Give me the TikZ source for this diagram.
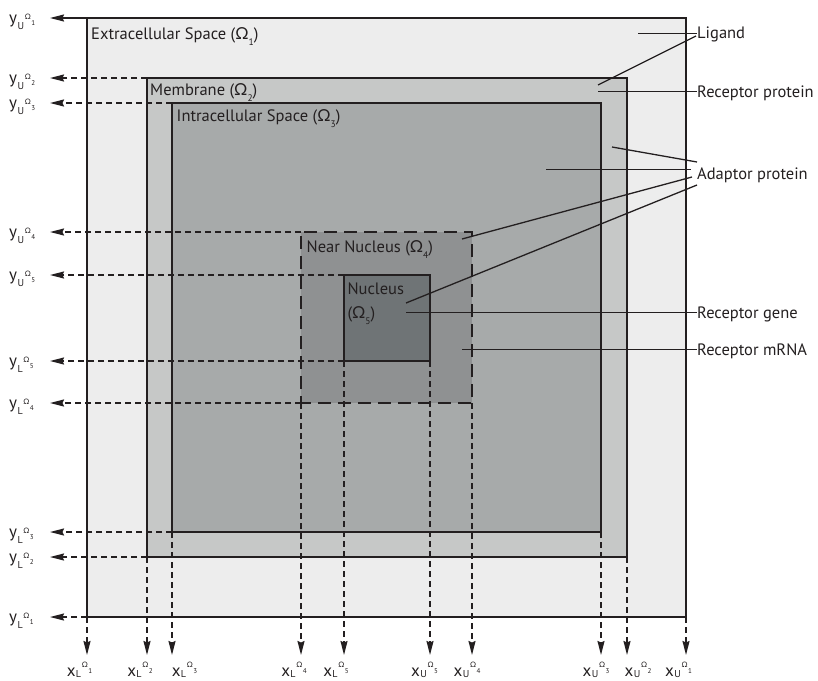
\documentclass[tikz,border=0pt]{standalone}
\usepackage{fontspec}
\setmainfont{PT Sans}
\newfontfamily\grk{Lato}
\usetikzlibrary{arrows.meta,calc}
\definecolor{ink}{HTML}{231F20}
\definecolor{cA}{HTML}{EDEDED}
\definecolor{cB}{HTML}{C6C8C7}
\definecolor{cC}{HTML}{A7AAAA}
\definecolor{cD}{HTML}{8F9192}
\definecolor{cE}{HTML}{6F7476}
\newcommand{\Om}{{\grk Ω}}
% #1 main letter, #2 raise of main, #3 sub letter, #4 digit
\newcommand{\glab}[4]{\raisebox{#2}{\fontsize{17}{17}\selectfont #1}\kern0.4pt{\fontsize{10}{10}\selectfont #3}\kern0.8pt\raisebox{10.5pt}{\fontsize{7.5}{7.5}\selectfont\grk Ω}\kern0.4pt\raisebox{4.5pt}{\fontsize{7}{7}\selectfont #4}}
\newcommand{\osub}[1]{\raisebox{-6pt}{\fontsize{9.5}{9.5}\selectfont #1}}
\tikzset{
  box/.style={draw=ink,line width=1.6pt,inner sep=0pt,outer sep=0pt},
  guide/.style={draw=ink,line width=1.5pt,dash pattern=on 6pt off 4pt,-{Stealth[length=14pt,width=7pt,inset=1.5pt]}},
  solidguide/.style={draw=ink,line width=1.5pt,-{Stealth[length=14pt,width=7pt,inset=1.5pt]}},
  lead/.style={draw=ink,line width=1.3pt},
  txt/.style={text=ink,inner sep=0pt,anchor=base west,font=\fontsize{16.5}{19}\selectfont},
  rlab/.style={text=ink,inner sep=0pt,anchor=west,text height=11.4pt,text depth=0pt,font=\fontsize{16.5}{19}\selectfont},
  ylab/.style={text=ink,inner sep=0pt,anchor=base west},
  xlab/.style={text=ink,inner sep=0pt,anchor=base},
}
\begin{document}
\begin{tikzpicture}[x=1pt,y=-1pt]
\path[fill=white] (0,0) rectangle (818,680);
\useasboundingbox (0,0) rectangle (818,680);
% compartments
\node[box,fill=cA,minimum width=599pt,minimum height=599pt] (o1) at (386.5,317.5) {};
\node[box,fill=cB,minimum width=480pt,minimum height=479pt] (o2) at (387,317.5) {};
\node[box,fill=cC,minimum width=429pt,minimum height=429pt] (o3) at (386.5,317.5) {};
\node[box,fill=cD,dash pattern=on 13pt off 7pt,dash phase=3pt,minimum width=171pt,minimum height=171pt] (o4) at (386.5,317.5) {};
\node[box,fill=cE,minimum width=86pt,minimum height=86pt] (o5) at (387,318) {};
% reference coordinates for arrow tips
\coordinate (L) at (50,0);
\coordinate (B) at (0,655);
% y guides
\draw[solidguide] (o1.north west) -- (o1.north west -| L);
\draw[guide] (o2.north west) -- (o2.north west -| L);
\draw[guide] (o3.north west) -- (o3.north west -| L);
\draw[guide] (o4.north west) -- (o4.north west -| L);
\draw[guide] (o5.north west) -- (o5.north west -| L);
\draw[guide] (o5.south west) -- (o5.south west -| L);
\draw[guide] (o4.south west) -- (o4.south west -| L);
\draw[guide] (o3.south west) -- (o3.south west -| L);
\draw[guide] (o2.south west) -- (o2.south west -| L);
\draw[guide] (o1.south west) -- (o1.south west -| L);
% x guides
\draw[guide] (o1.south west) -- (o1.south west |- B);
\draw[guide] (o2.south west) -- (o2.south west |- B);
\draw[guide] (o3.south west) -- (o3.south west |- B);
\draw[guide] (o4.south west) -- (o4.south west |- B);
\draw[guide] (o5.south west) -- (o5.south west |- B);
\draw[guide] (o5.south east) -- (o5.south east |- B);
\draw[guide] (o4.south east) -- (o4.south east |- B);
\draw[guide] (o3.south east) -- (o3.south east |- B);
\draw[guide] (o2.south east) -- (o2.south east |- B);
\draw[guide] (o1.south east) -- (o1.south east |- B);
% y labels
\node[ylab] (yu1) at (9,29.5) {\glab{y}{6pt}{U}{1}};
\node[ylab] (yu2) at (9,89.5) {\glab{y}{6pt}{U}{2}};
\node[ylab] (yu3) at (9,114.5) {\glab{y}{6pt}{U}{3}};
\node[ylab] (yu4) at (9,243.5) {\glab{y}{6pt}{U}{4}};
\node[ylab] (yu5) at (9,286.5) {\glab{y}{6pt}{U}{5}};
\node[ylab] (yl5) at (9,372.5) {\glab{y}{6pt}{L}{5}};
\node[ylab] (yl4) at (9,414.5) {\glab{y}{6pt}{L}{4}};
\node[ylab] (yl3) at (9,543.5) {\glab{y}{6pt}{L}{3}};
\node[ylab] (yl2) at (9,568.5) {\glab{y}{6pt}{L}{2}};
\node[ylab] (yl1) at (9,628.5) {\glab{y}{6pt}{L}{1}};
% x labels
\coordinate (XB) at (0,677.5);
\node[xlab] (xl1) at ($(o1.south west |- XB)+(-7.5,0)$) {\glab{x}{1.5pt}{L}{1}};
\node[xlab] (xl2) at ($(o2.south west |- XB)+(-7,0)$) {\glab{x}{1.5pt}{L}{2}};
\node[xlab] (xl3) at ($(o3.south west |- XB)+(12.5,0)$) {\glab{x}{1.5pt}{L}{3}};
\node[xlab] (xl4) at ($(o4.south west |- XB)+(-7,0)$) {\glab{x}{1.5pt}{L}{4}};
\node[xlab] (xl5) at ($(o5.south west |- XB)+(-8,0)$) {\glab{x}{1.5pt}{L}{5}};
\node[xlab] (xu5) at ($(o5.south east |- XB)+(-5.5,0)$) {\glab{x}{1.5pt}{U}{5}};
\node[xlab] (xu4) at ($(o4.south east |- XB)+(-5,0)$) {\glab{x}{1.5pt}{U}{4}};
\node[xlab] (xu3) at ($(o3.south east |- XB)+(-5,0)$) {\glab{x}{1.5pt}{U}{3}};
\node[xlab] (xu2) at ($(o2.south east |- XB)+(11,0)$) {\glab{x}{1.5pt}{U}{2}};
\node[xlab] (xu1) at ($(o1.south east |- XB)+(-7.5,0)$) {\glab{x}{1.5pt}{U}{1}};
% compartment names
\node[txt] (t1) at (91,39) {Extracellular Space (\Om\osub{1})};
\node[txt] (t2) at (150,95) {Membrane (\Om\osub{2})};
\node[txt] (t3) at (176.5,121.5) {Intracellular Space (\Om\osub{3})};
\node[txt] (t4) at (306.5,252.3) {Near Nucleus (\Om\osub{4})};
\node[txt] (t5) at (347.3,294.3) {Nucleus};
\node[txt] (t5b) at (347.3,318.3) {(\Om\osub{5})};
% right labels
\node[rlab] (lig) at (697,33) {Ligand};
\node[rlab] (rp) at (697,91.3) {Receptor protein};
\node[rlab] (ad) at (697,174) {Adaptor protein};
\node[rlab] (rg) at (697,312.5) {Receptor gene};
\node[rlab] (rm) at (697,349.3) {Receptor mRNA};
% leader start points
\coordinate (p1) at (638,33.3);
\coordinate (p2) at (598,85);
\coordinate (p3) at (598,91.3);
\coordinate (p4) at (612,147);
\coordinate (p5) at (546,169.3);
\coordinate (p6) at (462,239);
\coordinate (p7) at (406,303);
\coordinate (p8) at (406,312.5);
\coordinate (p9) at (462,349.3);
\draw[lead] (p1) -- (p1 -| lig.west);
\draw[lead] (p2) -- ($(lig.west)+(-1,3)$);
\draw[lead] (p3) -- (rp.west);
\draw[lead] (p4) -- ($(ad.west)+(0,-12)$);
\draw[lead] (p5) -- ($(p5 -| ad.west)+(-6,0)$);
\draw[lead] (p6) -- ($(ad.west)+(-5,3)$);
\draw[lead] (p7) -- ($(ad.west)+(0,11)$);
\draw[lead] (p8) -- (rg.west);
\draw[lead] (p9) -- (rm.west);
\end{tikzpicture}
\end{document}
